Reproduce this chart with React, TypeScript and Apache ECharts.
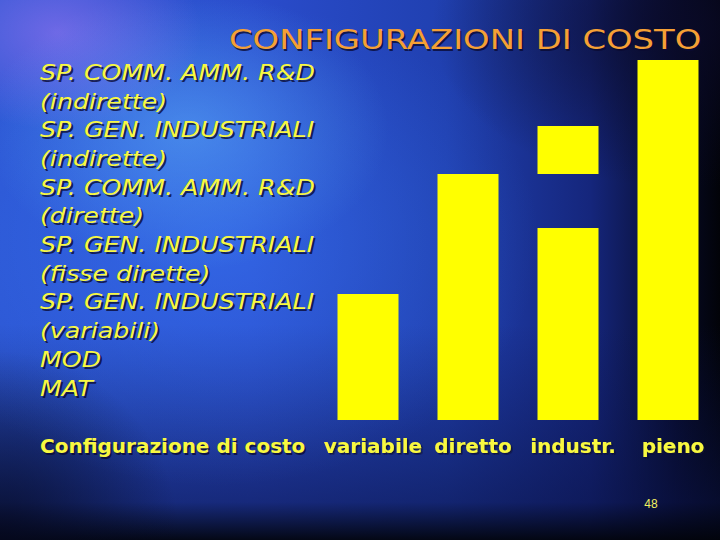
import React, { useEffect, useRef } from "react";
import * as echarts from "echarts";

const categories = ["variabile", "diretto", "industr.", "pieno"];
// stacked bar segments (1 unit = share of the fully loaded cost scale 0..60)
const baseValues = [21, 41, 32, 60];
const gapValues: (number | string)[] = ["-", "-", 9, "-"];
const topValues: (number | string)[] = ["-", "-", 8, "-"];
const yMax = 60;

const titleText = "CONFIGURAZIONI DI COSTO";
const axisTitle = "Configurazione di costo";
const pageNumber = "48";
const legendLines = [
  "SP. COMM. AMM. R&D",
  "(indirette)",
  "SP. GEN. INDUSTRIALI",
  "(indirette)",
  "SP. COMM. AMM. R&D",
  "(dirette)",
  "SP. GEN. INDUSTRIALI",
  "(fisse dirette)",
  "SP. GEN. INDUSTRIALI",
  "(variabili)",
  "MOD",
  "MAT",
];

const YELLOW = "#ffff00";
const TEXT_YELLOW = "#f8f840";
const SHADOW = "rgba(10,10,50,0.8)";
const FONT = "DejaVu Sans";

function shadowed(el: any, dx = 2, dy = 2): any[] {
  const sh = {
    ...el,
    x: el.x + dx,
    y: el.y + dy,
    silent: true,
    style: { ...el.style, fill: SHADOW },
  };
  return [sh, el];
}

export default function App() {
  const ref = useRef<HTMLDivElement>(null);
  useEffect(() => {
    if (!ref.current) return;
    const chart = echarts.init(ref.current, undefined, { renderer: "svg" });
    const graphics: any[] = [
      ...shadowed({
        type: "text",
        x: 229,
        y: 40,
        scaleX: 1.3,
        style: {
          text: titleText,
          x: 0,
          y: 0,
          fill: "#f5a035",
          fontFamily: FONT,
          fontSize: 26,
          textAlign: "left",
          textVerticalAlign: "middle",
        },
      }, 1.5, 1.5),
      ...legendLines.flatMap((t, i) =>
        shadowed({
          type: "text",
          x: 40,
          y: 72.4 + i * 28.7,
          scaleX: 1.15,
          style: {
            text: t,
            x: 0,
            y: 0,
            fill: TEXT_YELLOW,
            fontFamily: FONT,
            fontStyle: "italic",
            fontSize: 22,
            textAlign: "left",
            textVerticalAlign: "middle",
          },
        })
      ),
      ...shadowed({
        type: "text",
        x: 40,
        y: 446,
        style: {
          text: axisTitle,
          x: 0,
          y: 0,
          fill: TEXT_YELLOW,
          fontFamily: FONT,
          fontWeight: "bold",
          fontSize: 20,
          textAlign: "left",
          textVerticalAlign: "middle",
        },
      }, 1.5, 1.5),
      {
        type: "text",
        x: 651,
        y: 504,
        style: {
          text: pageNumber,
          x: 0,
          y: 0,
          fill: "#f0f060",
          fontFamily: "Liberation Sans",
          fontSize: 12,
          textAlign: "center",
          textVerticalAlign: "middle",
        },
      },
    ];
    chart.setOption({
      animation: false,
      backgroundColor: "transparent",
      grid: { left: 318, right: 2, top: 60, bottom: 120 },
      xAxis: {
        type: "category",
        data: categories,
        axisLine: { show: false },
        axisTick: { show: false },
        axisLabel: {
          interval: 0,
          hideOverlap: false,
          color: TEXT_YELLOW,
          fontFamily: FONT,
          fontWeight: "bold",
          fontSize: 20,
          margin: 16,
          padding: [0, 0, 0, 10],
          textShadowColor: SHADOW,
          textShadowOffsetX: 1.5,
          textShadowOffsetY: 1.5,
          textShadowBlur: 1,
        },
      },
      yAxis: {
        type: "value",
        min: 0,
        max: yMax,
        show: false,
        splitLine: { show: false },
      },
      series: [
        {
          type: "bar",
          stack: "cost",
          data: baseValues,
          barWidth: 61,
          itemStyle: { color: YELLOW },
        },
        {
          type: "bar",
          stack: "cost",
          data: gapValues,
          barWidth: 61,
          itemStyle: { color: "rgba(0,0,0,0)" },
        },
        {
          type: "bar",
          stack: "cost",
          data: topValues,
          barWidth: 61,
          itemStyle: { color: YELLOW },
        },
      ],
      graphic: graphics,
    });
    return () => chart.dispose();
  }, []);

  const bg = [
    "radial-gradient(ellipse 20% 18% at 8% 6%, rgba(190,130,255,0.45), rgba(190,130,255,0) 100%)",
    "radial-gradient(ellipse 28% 26% at 26% 24%, rgba(100,190,255,0.45), rgba(100,190,255,0) 100%)",
    "radial-gradient(ellipse 45% 45% at 30% 45%, rgba(60,130,255,0.45), rgba(60,130,255,0) 100%)",
    "radial-gradient(ellipse 35% 30% at 95% 5%, rgba(10,10,40,0.8), rgba(10,10,40,0) 100%)",
    "radial-gradient(ellipse 25% 35% at 0% 100%, rgba(5,8,30,0.8), rgba(5,8,30,0) 100%)",
    "linear-gradient(to bottom, rgba(0,0,0,0) 60%, rgba(10,18,70,0.6) 93%, rgba(2,4,12,0.95) 100%)",
    "linear-gradient(to right, #2c55d2 0%, #2a4ccc 35%, #2040b0 62%, #15267c 82%, #070b2a 94%, #020308 100%)",
  ].join(", ");

  return (
    <div
      style={{
        position: "fixed",
        left: 0,
        top: 0,
        width: 720,
        height: 540,
        background: bg,
      }}
    >
      <div ref={ref} style={{ width: 720, height: 540 }} />
    </div>
  );
}
